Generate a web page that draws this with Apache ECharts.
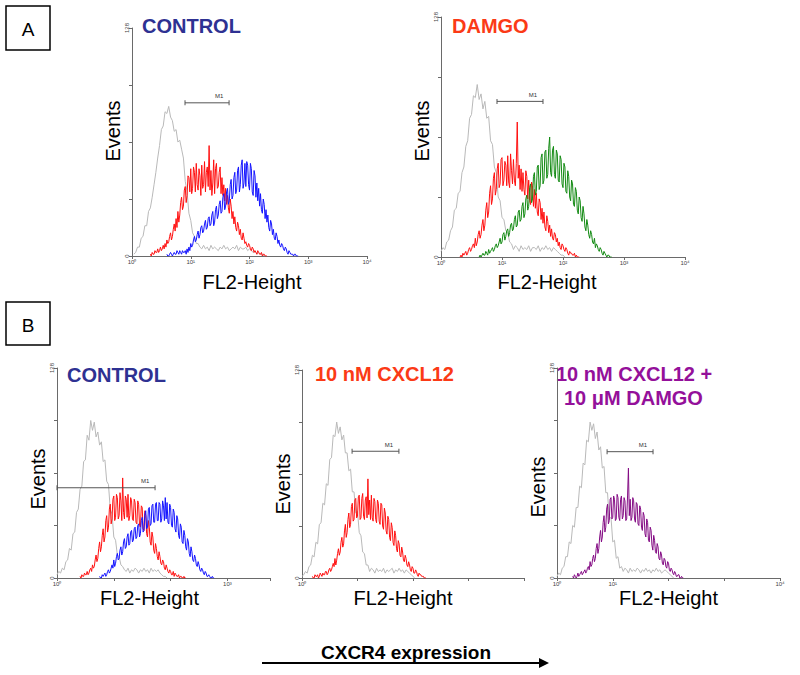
<!DOCTYPE html>
<html><head><meta charset="utf-8">
<script src="https://cdn.jsdelivr.net/npm/echarts@6/dist/echarts.min.js"></script>
<style>html,body{margin:0;padding:0;background:#fff}#c{width:800px;height:675px}</style>
</head><body><div id="c"></div>
<script>
// ---- axis definitions (1024 channels = 4 log decades) ----
const CH_STEP_COARSE = 8;          // channel spacing of isotype (gray) samples
const CH_STEP_FINE = 4;            // channel spacing of stained samples
const CH_PER_DECADE = 256;
const Y_MAX = 128;
const xLabelsA1 = ['10⁰','10¹','10²','10³','10⁴'];
const xLabelsA2 = ['10⁰','10¹','10²','10³','10⁴'];
const xLabelsB1 = ['10⁰','','','10³',''];
const xLabelsB2 = ['10⁰','','','',''];
const xLabelsB3 = ['10⁰','10¹','','','10⁴'];
const yTickLabels = ['0','','','','128'];

// ---- panel titles ----
const titleA1 = 'CONTROL';
const titleA2 = 'DAMGO';
const titleB1 = 'CONTROL';
const titleB2 = '10 nM CXCL12';
const titleB3a = '10 nM CXCL12 +';
const titleB3b = '10 μM DAMGO';

// ---- histogram counts (start = first sample index; sample k sits at channel (start+k)*step) ----
const a1GrayStart = 1;
const a1Gray = [1,2,5,5,10,11,17,17,25,27,33,40,47,55,62,71,73,81,80,84,78,76,70,71,64,65,60,55,42,36,24,20,13,11,7,7,5,4,6,4,5,3,6,4,5,4,3,5,4,6,4,5,3,4,5,4,6,3,5,4,4,5,3,4,3,2,3,1,2,1,1,0];
const a1RedStart = 20;
const a1Red = [1,0,2,1,1,3,2,2,4,2,3,5,3,4,6,4,7,5,9,7,8,11,13,9,11,15,18,14,21,16,25,19,23,30,33,26,28,37,39,30,34,45,44,36,49,35,38,50,47,36,52,40,37,49,45,34,51,38,40,53,36,47,50,39,62,37,48,34,41,54,35,49,52,38,39,47,50,35,44,34,40,31,38,29,34,27,24,32,28,21,25,18,22,16,14,19,17,12,15,10,9,13,10,7,8,6,5,7,6,4,3,5,4,2,3,2,1,3,2,1,1,2,0,1,1,0,0,0];
const a1BlueStart = 38;
const a1Blue = [1,0,0,1,2,1,0,1,2,1,1,3,2,1,3,2,1,3,2,2,3,1,4,2,5,3,7,5,6,9,11,8,9,12,14,10,12,16,17,13,14,18,20,15,16,21,22,17,18,23,25,17,19,26,28,21,23,29,31,24,25,33,35,26,28,36,38,29,31,40,43,32,34,44,47,35,37,48,50,36,40,51,54,38,41,52,39,53,51,40,37,52,49,36,34,48,45,33,41,31,38,28,35,26,24,32,29,21,26,19,23,16,14,20,18,12,15,10,9,13,11,7,9,6,5,7,6,4,3,5,4,2,1,3,2,1,1,1,0,1,1,0,0,0];

const a2GrayStart = 0;
const a2Gray = [3,5,4,8,9,14,16,25,26,34,35,45,48,59,62,74,76,86,85,92,84,87,79,83,74,75,62,60,48,45,32,30,21,20,14,13,8,7,4,6,5,3,6,4,5,4,6,3,5,5,4,6,3,5,4,6,4,5,3,5,4,3,2,1,1,0];
const a2RedStart = 20;
const a2Red = [0,1,0,2,1,2,3,1,2,4,5,3,4,6,7,5,10,6,8,12,14,10,12,17,20,14,17,25,29,21,24,34,38,28,31,42,45,33,36,47,50,37,39,52,53,38,41,51,49,38,54,40,37,55,46,39,52,41,38,50,72,42,49,36,47,35,45,36,33,46,43,31,41,30,28,40,38,27,36,26,34,24,22,31,29,20,26,18,24,16,14,22,19,13,17,11,15,10,9,13,12,8,10,6,8,5,4,7,6,4,3,5,4,2,1,3,2,2,1,1,2,0,1,0,0,0];
const a2GreenStart = 40;
const a2Green = [0,1,0,1,2,1,1,3,2,1,4,2,3,4,5,3,4,6,7,5,6,8,10,7,8,12,13,9,11,14,15,11,13,17,18,14,15,20,22,16,17,24,25,19,20,27,29,21,23,31,33,25,27,37,39,29,31,43,45,33,35,48,49,36,38,53,55,39,41,56,57,42,44,58,64,45,43,57,59,44,42,57,55,41,40,54,52,39,37,50,48,35,34,46,43,32,30,41,39,28,27,37,35,25,23,32,30,21,19,27,23,16,14,20,17,12,10,14,12,8,7,10,5,7,6,4,3,5,4,2,1,3,2,1,0,1,1,0,0,0];

const b1GrayStart = 0;
const b1Gray = [2,4,3,6,5,10,11,18,17,27,28,40,42,54,56,71,72,87,84,96,90,95,86,89,81,83,71,72,59,57,42,39,25,23,14,13,8,7,5,4,6,3,5,4,6,5,3,5,4,6,4,5,3,6,4,5,4,5,3,2,1,1,0];
const b1RedStart = 26;
const b1Red = [1,0,2,1,1,3,2,2,4,2,3,5,6,4,8,6,7,11,14,10,12,18,22,16,19,26,30,22,25,35,38,28,31,42,45,33,36,48,50,35,37,51,49,36,38,52,47,35,61,40,36,50,48,37,51,35,38,49,47,36,35,48,46,34,33,47,45,32,31,44,43,30,29,41,38,27,25,35,31,22,20,28,25,17,15,21,18,13,11,16,13,9,8,11,10,6,5,8,6,4,3,5,4,2,2,4,1,3,2,1,1,2,0,1,1,0,0,1,0,0];
const b1BlueStart = 48;
const b1Blue = [1,0,0,2,1,2,3,1,2,4,5,3,4,6,8,6,11,7,9,13,15,11,12,17,19,14,16,22,24,18,19,25,27,20,21,28,29,22,23,30,31,24,25,32,33,25,27,35,37,28,29,39,41,30,31,42,43,32,33,44,45,34,34,45,46,35,35,46,45,34,36,47,44,35,49,36,46,34,33,45,43,32,31,42,40,30,28,38,36,26,24,33,31,22,21,29,26,19,17,24,22,15,13,19,16,11,10,14,12,8,7,10,8,5,4,6,5,3,2,4,3,1,1,2,1,0,0,1,0,0];

const b2GrayStart = 0;
const b2Gray = [1,2,4,3,7,8,14,13,22,21,33,34,46,45,58,57,73,74,88,87,96,89,93,85,88,77,77,66,67,53,53,40,41,28,26,16,15,8,8,4,6,5,3,6,4,5,4,6,3,5,4,5,6,3,5,4,6,4,5,3,5,4,3,2,1,0];
const b2RedStart = 12;
const b2Red = [1,0,0,2,1,1,2,0,1,3,2,1,3,2,2,4,4,2,3,5,6,4,5,7,9,7,12,8,11,15,18,14,16,22,25,19,21,29,33,25,28,36,40,31,33,44,46,35,36,48,49,37,38,50,51,36,37,49,52,38,36,48,50,37,61,39,48,36,51,37,35,49,47,36,34,48,46,35,33,46,45,32,30,43,40,29,27,38,36,25,23,34,31,22,20,29,26,18,16,23,21,14,13,19,16,11,10,14,12,8,7,10,8,5,4,7,6,3,3,5,4,2,1,3,2,2,1,1,1,0,0,0];

const b3GrayStart = 0;
const b3Gray = [1,3,2,6,7,13,13,22,21,32,31,43,43,56,55,70,69,84,83,95,90,94,85,89,78,80,67,68,52,52,36,37,22,23,12,13,6,7,4,6,5,3,6,4,5,4,6,5,3,5,4,6,4,5,3,5,4,6,4,5,3,4,5,4,3,2,1,0];
const b3PurpleStart = 18;
const b3Purple = [1,0,2,1,0,1,3,1,2,3,4,2,3,4,5,3,4,6,7,5,10,7,8,12,14,10,12,18,21,15,18,25,29,22,25,34,38,28,31,42,45,33,35,48,49,36,37,50,48,35,36,51,49,37,35,48,50,36,38,49,47,35,36,50,67,38,48,35,37,49,47,36,34,46,45,33,32,44,42,31,29,40,38,27,25,36,34,23,22,31,29,20,17,26,23,16,15,21,19,12,11,16,14,9,8,12,11,7,6,10,9,5,4,6,5,3,2,4,3,1,1,2,2,0,0,1,0,0];

// ---- M1 gates: [start channel, end channel, drawn at count] ----
const m1A1 = [231, 423, 86];
const m1A2 = [235, 428, 83];
const m1B1 = [0, 442, 55];
const m1B2 = [231, 447, 78];
const m1B3 = [230, 441, 77];

// ---- colours ----
const C_GRAY = '#b9b9b9', C_RED = '#ff1010', C_BLUE = '#1414ff', C_GREEN = '#128a12', C_PURPLE = '#840c84';

const FONT = '"Liberation Sans", Arial, sans-serif';
const pts = (start, arr, step) => arr.map((v, k) => [(start + k) * step, v]);

const panels = [
  { grid:{left:132, top:28, width:235, height:228}, xMax:1024, xLabels:xLabelsA1,
    evGap:-3, evPad:[0,0,0,22], flGap:16, flPad:[0,0,0,5],
    curves:[[a1GrayStart,a1Gray,C_GRAY,CH_STEP_COARSE],[a1RedStart,a1Red,C_RED,CH_STEP_FINE],[a1BlueStart,a1Blue,C_BLUE,CH_STEP_FINE]], gate:m1A1 },
  { grid:{left:441, top:17, width:244, height:240}, xMax:1024, xLabels:xLabelsA2,
    evGap:2, evPad:[0,0,0,12], flGap:15, flPad:[0,32,0,0],
    curves:[[a2GrayStart,a2Gray,C_GRAY,CH_STEP_COARSE],[a2RedStart,a2Red,C_RED,CH_STEP_FINE],[a2GreenStart,a2Green,C_GREEN,CH_STEP_FINE]], gate:m1A2 },
  { grid:{left:57, top:368, width:213, height:210}, xMax:960, xLabels:xLabelsB1,
    evGap:3, evPad:[0,12,0,0], flGap:0, flPad:[0,28,0,0],
    curves:[[b1GrayStart,b1Gray,C_GRAY,CH_STEP_COARSE],[b1RedStart,b1Red,C_RED,CH_STEP_FINE],[b1BlueStart,b1Blue,C_BLUE,CH_STEP_FINE]], gate:m1B1 },
  { grid:{left:302, top:370, width:222, height:208}, xMax:1024, xLabels:xLabelsB2,
    evGap:6, evPad:[0,20,0,0], flGap:2, flPad:[0,20,0,0],
    curves:[[b2GrayStart,b2Gray,C_GRAY,CH_STEP_COARSE],[b2RedStart,b2Red,C_RED,CH_STEP_FINE]], gate:m1B2 },
  { grid:{left:557, top:368, width:223, height:210}, xMax:1024, xLabels:xLabelsB3,
    evGap:8, evPad:[0,28,0,0], flGap:2, flPad:[0,0,0,0],
    curves:[[b3GrayStart,b3Gray,C_GRAY,CH_STEP_COARSE],[b3PurpleStart,b3Purple,C_PURPLE,CH_STEP_FINE]], gate:m1B3 }
];

const axisColor = '#6a6a6a';
const grids = [], xAxes = [], yAxes = [], series = [];
panels.forEach((p, i) => {
  grids.push(Object.assign({containLabel:false}, p.grid));
  xAxes.push({
    gridIndex:i, type:'value', min:0, max:p.xMax, interval:CH_PER_DECADE,
    axisLine:{lineStyle:{color:axisColor, width:1}},
    axisTick:{show:true, length:3, lineStyle:{color:axisColor}},
    axisLabel:{fontSize:6, color:'#444', margin:3, fontFamily:FONT, showMaxLabel:true,
      formatter:v => (v % CH_PER_DECADE === 0 ? (p.xLabels[v / CH_PER_DECADE] || '') : '')},
    splitLine:{show:false},
    name:'FL2-Height', nameLocation:'middle', nameGap:p.flGap,
    nameTextStyle:{fontSize:20, color:'#000', fontFamily:FONT, padding:p.flPad}
  });
  yAxes.push({
    gridIndex:i, type:'value', min:0, max:Y_MAX, interval:32,
    axisLine:{show:true, lineStyle:{color:axisColor, width:1}},
    axisTick:{show:true, length:3, lineStyle:{color:axisColor}},
    axisLabel:{fontSize:6, color:'#444', margin:2, rotate:90, fontFamily:FONT,
      formatter:v => yTickLabels[v / 32] || ''},
    splitLine:{show:false},
    name:'Events', nameLocation:'middle', nameRotate:90, nameGap:p.evGap,
    nameTextStyle:{fontSize:20, color:'#000', fontFamily:FONT, padding:p.evPad}
  });
  p.curves.forEach(([start, arr, col, step]) => {
    series.push({type:'line', xAxisIndex:i, yAxisIndex:i, data:pts(start, arr, step),
      showSymbol:false, symbol:'none', silent:true, lineStyle:{color:col, width:1}});
  });
  const g = p.gate;
  series.push({type:'line', xAxisIndex:i, yAxisIndex:i, silent:true,
    data:[[g[0], g[2]], {value:[g[1], g[2]], label:{show:true, formatter:'M1', position:'top',
      offset:[-10, 0], distance:1, fontSize:6, color:'#333', fontFamily:FONT}}],
    symbol:'rect', symbolSize:[1,5], showSymbol:true,
    lineStyle:{color:'#555', width:1}, itemStyle:{color:'#555'}});
});

const titleFont = 'bold 20px ' + FONT;
const txt = (text, x, y, fill, font, align) => ({type:'text', x, y, silent:true,
  style:{text, fill, font, textAlign:align || 'left', align:align || 'left', textVerticalAlign:'middle', verticalAlign:'middle'}});

const graphic = [
  {type:'rect', shape:{x:6, y:6, width:44, height:44}, style:{fill:'none', stroke:'#000', lineWidth:1.5}},
  txt('A', 28, 29, '#000', '19px ' + FONT, 'center'),
  {type:'rect', shape:{x:6, y:302, width:44, height:43}, style:{fill:'none', stroke:'#000', lineWidth:1.5}},
  txt('B', 28, 325, '#000', '19px ' + FONT, 'center'),
  txt(titleA1, 142, 26, '#2e3192', titleFont),
  txt(titleA2, 452, 26, '#fb3a16', titleFont),
  txt(titleB1, 67, 375, '#2e3192', titleFont),
  txt(titleB2, 315, 374, '#fb3a16', titleFont),
  txt(titleB3a, 556, 374, '#94109a', titleFont),
  txt(titleB3b, 564, 398, '#94109a', titleFont),
  txt('CXCR4 expression', 406, 652, '#000', 'bold 19px ' + FONT, 'center'),
  {type:'line', shape:{x1:262, y1:663, x2:541, y2:663}, style:{stroke:'#000', lineWidth:2}},
  {type:'polygon', shape:{points:[[539,658],[549,663],[539,668]]}, style:{fill:'#000'}}
];

const chart = echarts.init(document.getElementById('c'), null, {renderer:'svg'});
chart.setOption({animation:false, backgroundColor:'#fff', grid:grids, xAxis:xAxes, yAxis:yAxes, series, graphic});
</script></body></html>
